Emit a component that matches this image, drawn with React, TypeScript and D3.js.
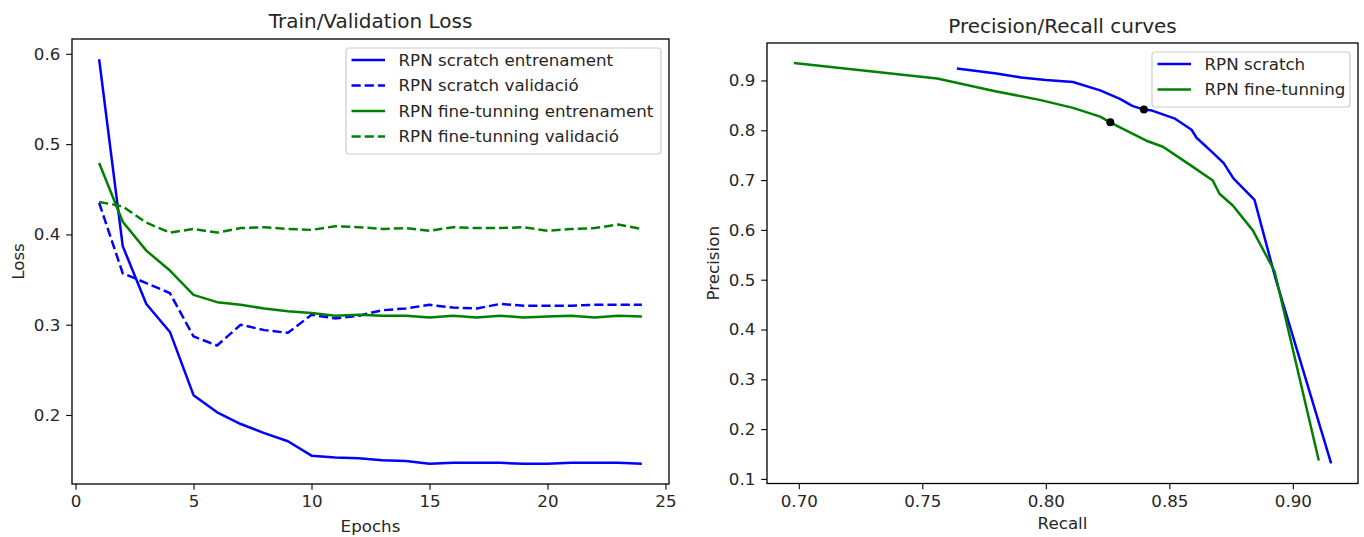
import * as d3 from 'd3';
import React, { useEffect, useRef } from 'react';

// Train/Validation loss per epoch
const epochs = [1, 2, 3, 4, 5, 6, 7, 8, 9, 10, 11, 12, 13, 14, 15, 16, 17, 18, 19, 20, 21, 22, 23, 24];
const scratchTrain = [0.594, 0.387, 0.323, 0.292, 0.222, 0.203, 0.19, 0.18, 0.171, 0.155, 0.153, 0.152, 0.15, 0.149, 0.146, 0.147, 0.147, 0.147, 0.146, 0.146, 0.147, 0.147, 0.147, 0.146];
const scratchVal = [0.435, 0.357, 0.346, 0.335, 0.287, 0.277, 0.3, 0.294, 0.291, 0.311, 0.307, 0.31, 0.316, 0.318, 0.322, 0.319, 0.318, 0.323, 0.321, 0.321, 0.321, 0.322, 0.322, 0.322];
const fineTrain = [0.479, 0.414, 0.382, 0.36, 0.333, 0.325, 0.322, 0.318, 0.315, 0.313, 0.31, 0.311, 0.31, 0.31, 0.308, 0.31, 0.308, 0.31, 0.308, 0.309, 0.31, 0.308, 0.31, 0.309];
const fineVal = [0.436, 0.431, 0.413, 0.402, 0.406, 0.402, 0.407, 0.408, 0.406, 0.405, 0.409, 0.408, 0.406, 0.407, 0.404, 0.408, 0.407, 0.407, 0.408, 0.404, 0.406, 0.407, 0.411, 0.406];

// Precision/Recall curves
const scratchRecall = [0.764, 0.78, 0.79, 0.8, 0.811, 0.822, 0.83, 0.835, 0.8397, 0.843, 0.852, 0.859, 0.861, 0.868, 0.872, 0.876, 0.8845, 0.893, 0.9155];
const scratchPrecision = [0.924, 0.914, 0.906, 0.901, 0.897, 0.88, 0.863, 0.849, 0.8415, 0.8395, 0.824, 0.801, 0.785, 0.753, 0.734, 0.703, 0.66, 0.502, 0.131];
const fineRecall = [0.698, 0.756, 0.78, 0.7975, 0.811, 0.822, 0.8261, 0.83, 0.8407, 0.8474, 0.8582, 0.8676, 0.8703, 0.8757, 0.8838, 0.8926, 0.9105];
const finePrecision = [0.935, 0.904, 0.878, 0.861, 0.845, 0.8275, 0.816, 0.806, 0.779, 0.767, 0.731, 0.699, 0.6725, 0.649, 0.599, 0.517, 0.137];
const markerRecall = [0.8397, 0.8261];
const markerPrecision = [0.8415, 0.816];

const lossTicks = [0.2, 0.3, 0.4, 0.5, 0.6];
const epochTicks = [0, 5, 10, 15, 20, 25];
const recallTicks = [0.7, 0.75, 0.8, 0.85, 0.9];
const precisionTicks = [0.1, 0.2, 0.3, 0.4, 0.5, 0.6, 0.7, 0.8, 0.9];

const FONT = 'DejaVu Sans, sans-serif';
const FS = 16.7;

const pad = (lo: number, hi: number) => {
  const m = (hi - lo) * 0.05;
  return [lo - m, hi + m];
};

const App: React.FC = () => {
  const svgRef = useRef(null);

  useEffect(() => {
    const svg = d3.select(svgRef.current);
    svg.selectAll('*').remove();

    const drawAxes = (
      g: any,
      x: d3.ScaleLinear<number, number>,
      y: d3.ScaleLinear<number, number>,
      xt: number[],
      yt: number[],
      xf: (v: number) => string,
      yf: (v: number) => string
    ) => {
      const [x0, x1] = x.range();
      const [y0, y1] = y.range();
      const xa = g
        .append('g')
        .attr('transform', `translate(0,${y0})`)
        .call(d3.axisBottom(x).tickValues(xt).tickFormat(xf as any).tickSizeOuter(0).tickSize(5.8).tickPadding(5.8));
      const ya = g
        .append('g')
        .attr('transform', `translate(${x0},0)`)
        .call(d3.axisLeft(y).tickValues(yt).tickFormat(yf as any).tickSizeOuter(0).tickSize(5.8).tickPadding(5.8));
      [xa, ya].forEach((a) => {
        a.select('.domain').remove();
        a.selectAll('line').attr('stroke', '#000').attr('stroke-width', 1.1);
        a.selectAll('text').attr('font-family', FONT).attr('font-size', FS).attr('fill', '#262626');
      });
      g.append('rect')
        .attr('x', x0)
        .attr('y', y1)
        .attr('width', x1 - x0)
        .attr('height', y0 - y1)
        .attr('fill', 'none')
        .attr('stroke', '#000')
        .attr('stroke-width', 1.3);
    };

    const drawLegend = (g: any, x: number, y: number, w: number, items: { label: string; color: string; dash?: string }[]) => {
      const rowH = 25.5;
      const lg = g.append('g').attr('transform', `translate(${x},${y})`);
      lg.append('rect')
        .attr('width', w)
        .attr('height', items.length * rowH + 4)
        .attr('rx', 3)
        .attr('fill', 'rgba(255,255,255,0.8)')
        .attr('stroke', '#cccccc')
        .attr('stroke-width', 1.2);
      items.forEach((it, i) => {
        const cy = 12 + i * rowH;
        lg.append('line')
          .attr('x1', 5.5)
          .attr('x2', 39)
          .attr('y1', cy)
          .attr('y2', cy)
          .attr('stroke', it.color)
          .attr('stroke-width', 2.5)
          .attr('stroke-dasharray', it.dash || null);
        lg.append('text')
          .attr('x', 52.5)
          .attr('y', cy)
          .attr('dy', '0.35em')
          .attr('font-family', FONT)
          .attr('font-size', FS)
          .attr('fill', '#262626')
          .text(it.label);
      });
    };

    // ---- Left: loss ----
    const left = svg.append('g');
    const xL = d3.scaleLinear().domain(pad(1, 24)).range([72, 669]);
    const yL = d3.scaleLinear().domain(pad(0.146, 0.594)).range([484, 39]);
    drawAxes(left, xL, yL, epochTicks, lossTicks, (v) => String(v), d3.format('.1f'));

    const lineL = (vals: number[]) =>
      d3
        .line<number>()
        .x((_, i) => xL(epochs[i]))
        .y((d) => yL(d))(vals);

    const lossSeries = [
      { vals: scratchTrain, color: 'blue', dash: null, label: 'RPN scratch entrenament' },
      { vals: scratchVal, color: 'blue', dash: '9.2,4', label: 'RPN scratch validació' },
      { vals: fineTrain, color: 'green', dash: null, label: 'RPN fine-tunning entrenament' },
      { vals: fineVal, color: 'green', dash: '9.2,4', label: 'RPN fine-tunning validació' },
    ];
    lossSeries.forEach((s) => {
      left
        .append('path')
        .attr('d', lineL(s.vals))
        .attr('fill', 'none')
        .attr('stroke', s.color)
        .attr('stroke-width', 2.5)
        .attr('stroke-dasharray', s.dash)
        .attr('stroke-linejoin', 'round');
    });
    drawLegend(
      left,
      346,
      48,
      315,
      lossSeries.map((s) => ({ label: s.label, color: s.color, dash: s.dash || undefined }))
    );

    left
      .append('text')
      .attr('x', (72 + 669) / 2)
      .attr('y', 28)
      .attr('text-anchor', 'middle')
      .attr('font-family', FONT)
      .attr('font-size', 20)
      .attr('fill', '#262626')
      .text('Train/Validation Loss');
    left
      .append('text')
      .attr('x', (72 + 669) / 2)
      .attr('y', 532)
      .attr('text-anchor', 'middle')
      .attr('font-family', FONT)
      .attr('font-size', FS)
      .attr('fill', '#262626')
      .text('Epochs');
    left
      .append('text')
      .attr('transform', `translate(24,${(39 + 484) / 2}) rotate(-90)`)
      .attr('text-anchor', 'middle')
      .attr('font-family', FONT)
      .attr('font-size', FS)
      .attr('fill', '#262626')
      .text('Loss');

    // ---- Right: precision / recall ----
    const right = svg.append('g');
    const xR = d3.scaleLinear().domain(pad(0.698, 0.9155)).range([767, 1358]);
    const yR = d3.scaleLinear().domain(pad(0.131, 0.935)).range([483.5, 43]);
    drawAxes(right, xR, yR, recallTicks, precisionTicks, d3.format('.2f'), d3.format('.1f'));

    const prSeries = [
      { r: scratchRecall, p: scratchPrecision, color: 'blue', label: 'RPN scratch' },
      { r: fineRecall, p: finePrecision, color: 'green', label: 'RPN fine-tunning' },
    ];
    prSeries.forEach((s) => {
      const ln = d3
        .line<number>()
        .x((d) => xR(d))
        .y((_, i) => yR(s.p[i]));
      right
        .append('path')
        .attr('d', ln(s.r))
        .attr('fill', 'none')
        .attr('stroke', s.color)
        .attr('stroke-width', 2.5)
        .attr('stroke-linejoin', 'round');
    });
    right
      .selectAll('.marker')
      .data(markerRecall)
      .enter()
      .append('circle')
      .attr('cx', (d) => xR(d))
      .attr('cy', (_, i) => yR(markerPrecision[i]))
      .attr('r', 4)
      .attr('fill', '#000');
    drawLegend(right, 1152, 52, 198, prSeries.map((s) => ({ label: s.label, color: s.color })));

    right
      .append('text')
      .attr('x', (767 + 1358) / 2)
      .attr('y', 33)
      .attr('text-anchor', 'middle')
      .attr('font-family', FONT)
      .attr('font-size', 20)
      .attr('fill', '#262626')
      .text('Precision/Recall curves');
    right
      .append('text')
      .attr('x', (767 + 1358) / 2)
      .attr('y', 529)
      .attr('text-anchor', 'middle')
      .attr('font-family', FONT)
      .attr('font-size', FS)
      .attr('fill', '#262626')
      .text('Recall');
    right
      .append('text')
      .attr('transform', `translate(719,${(43 + 483.5) / 2}) rotate(-90)`)
      .attr('text-anchor', 'middle')
      .attr('font-family', FONT)
      .attr('font-size', FS)
      .attr('fill', '#262626')
      .text('Precision');
  }, []);

  return (
    <svg
      ref={svgRef}
      width={1364}
      height={537}
      style={{ position: 'absolute', left: 0, top: 0, background: '#fff' }}
    />
  );
};

export default App;
